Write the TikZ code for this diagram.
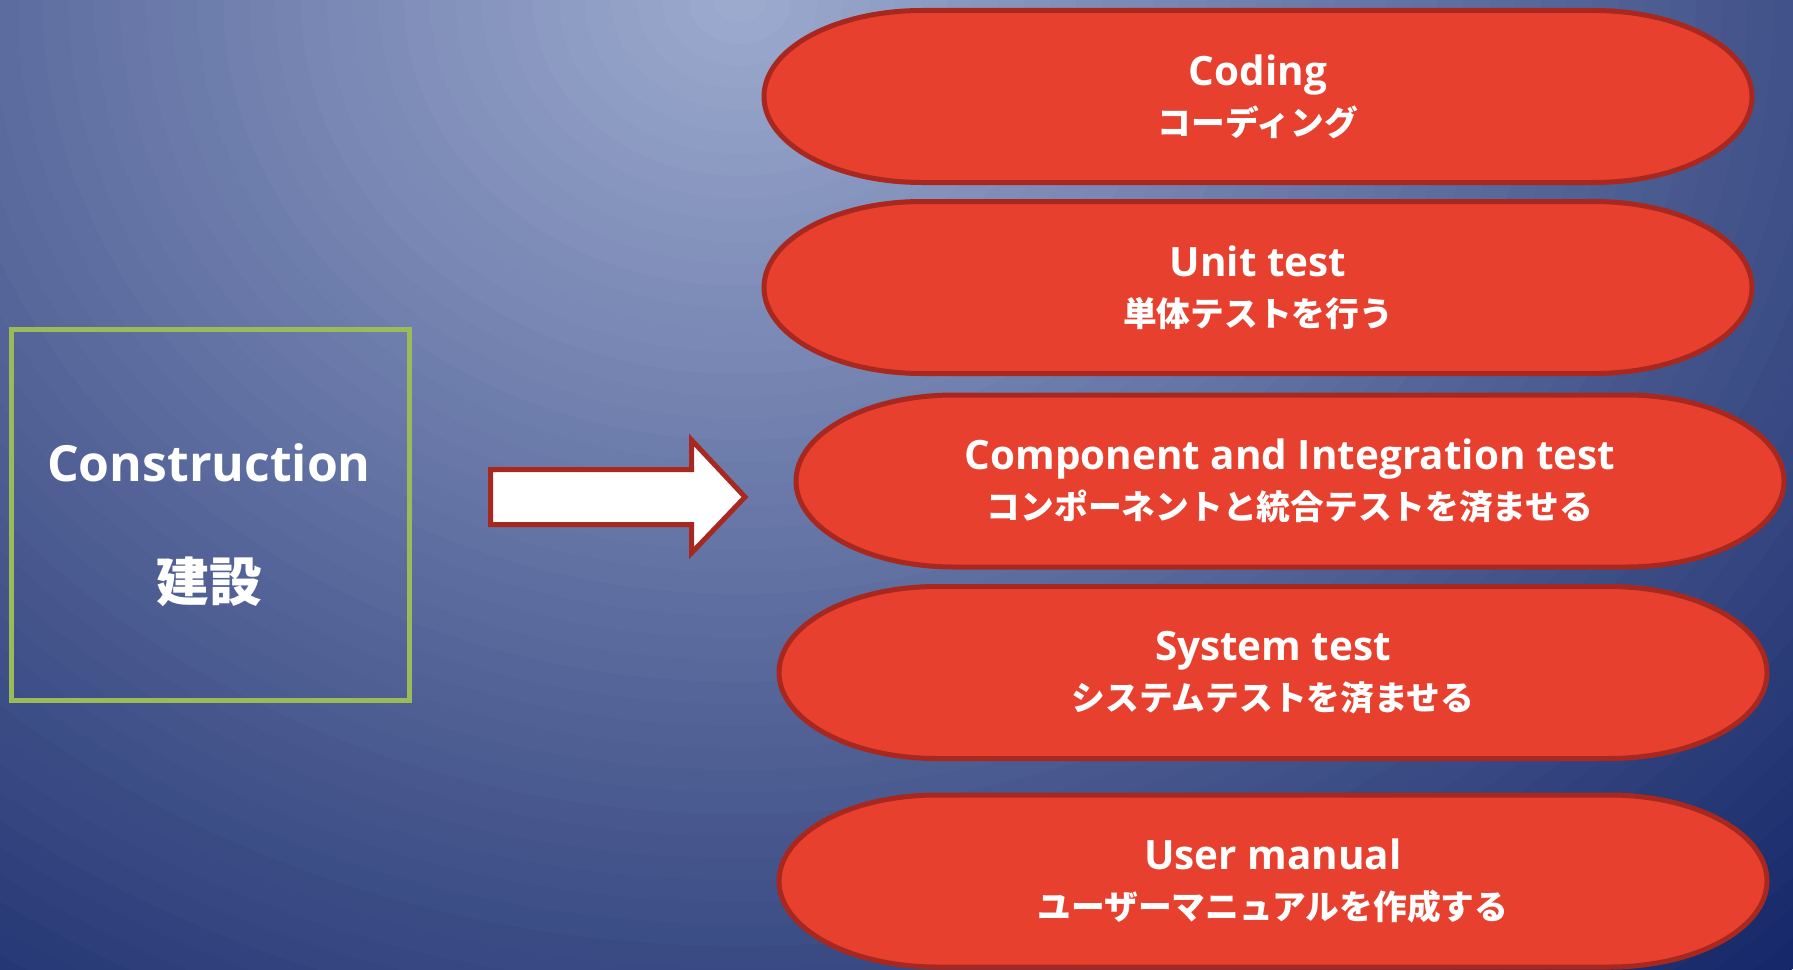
\documentclass[tikz,border=0pt]{standalone}
\usepackage{fontspec}
\setmainfont{Open Sans}
\newfontfamily\jpfont{Noto Sans CJK JP}

\definecolor{bglight}{HTML}{9EACD0}
\definecolor{bgdark}{HTML}{162869}
\definecolor{termred}{HTML}{E8402E}
\definecolor{termline}{HTML}{A82820}
\definecolor{stagegreen}{HTML}{9BBB59}

\newcommand{\entitle}[1]{{\fontsize{11.5}{14.2}\selectfont\bfseries #1}}
\newcommand{\jptitle}[1]{{\fontsize{9.6}{14.2}\selectfont\jpfont\bfseries #1}}

\tikzset{
  termbox/.style={draw=termline, fill=termred, line width=0.05cm},
  termtext/.style={text=white, align=center, inner sep=0pt, font=\fontsize{10}{14.2}\selectfont},
  stagebox/.style={draw=stagegreen, line width=0.05cm, minimum width=3.98cm, minimum height=3.71cm},
  blockarrow/.style={draw=termline, fill=white, line width=0.05cm, line join=miter},
}

\usetikzlibrary{calc}

\begin{document}
\begin{tikzpicture}
    \def\hw{4.94}
    \def\rx{1.58}
    \def\ry{0.86}
    \useasboundingbox (0,0) rectangle (17.93,9.69);
    \clip (0,0) rectangle (17.93,9.69);
    % background glow, ring by ring
    \fill[bgdark] (0,0) rectangle (17.93,9.69);
    \foreach \i in {60,59,...,1}{
        \pgfmathsetmacro\t{100*\i/60}
        \fill[bgdark!\t!bglight] (7.40,9.69) ellipse [x radius={15.5*\i/60}, y radius={13.2*\i/60}];
    }
    % left stage
    \node[stagebox] (stage) at (2.10,4.545) {};
    \node[text=white, font=\fontsize{14.2}{17}\selectfont\bfseries] (cons) at (2.09,5.06) {Construction};
    \node[text=white, font=\fontsize{15}{18}\selectfont\jpfont\bfseries] (kensetsu) at (2.09,3.87) {建設};
    % arrow
    \draw[blockarrow] (4.905,4.995) -- (6.915,4.995) -- (6.915,5.29) -- (7.45,4.72) -- (6.915,4.16) -- (6.915,4.445) -- (4.905,4.445) -- cycle;
    % steps
    \foreach \cx/\cy/\nm/\en/\jp in {12.58/8.725/code/Coding/コーディング,
        12.58/6.815/unit/Unit test/単体テストを行う,
        12.90/4.88/integ/Component and Integration test/コンポーネントと統合テストを済ませる,
        12.73/2.965/sys/System test/システムテストを済ませる,
        12.73/0.88/manual/User manual/ユーザーマニュアルを作成する}{
        \draw[termbox] (\cx,\cy) ++(-\hw+\rx,\ry) -- ++({2*(\hw-\rx)},0) arc[start angle=90, end angle=-90, x radius=\rx, y radius=\ry] -- ++({-2*(\hw-\rx)},0) arc[start angle=270, end angle=90, x radius=\rx, y radius=\ry] -- cycle;
        \node[termtext] (\nm) at (\cx,\cy) {\entitle{\en}\\\jptitle{\jp}};
    }
\end{tikzpicture}
\end{document}
